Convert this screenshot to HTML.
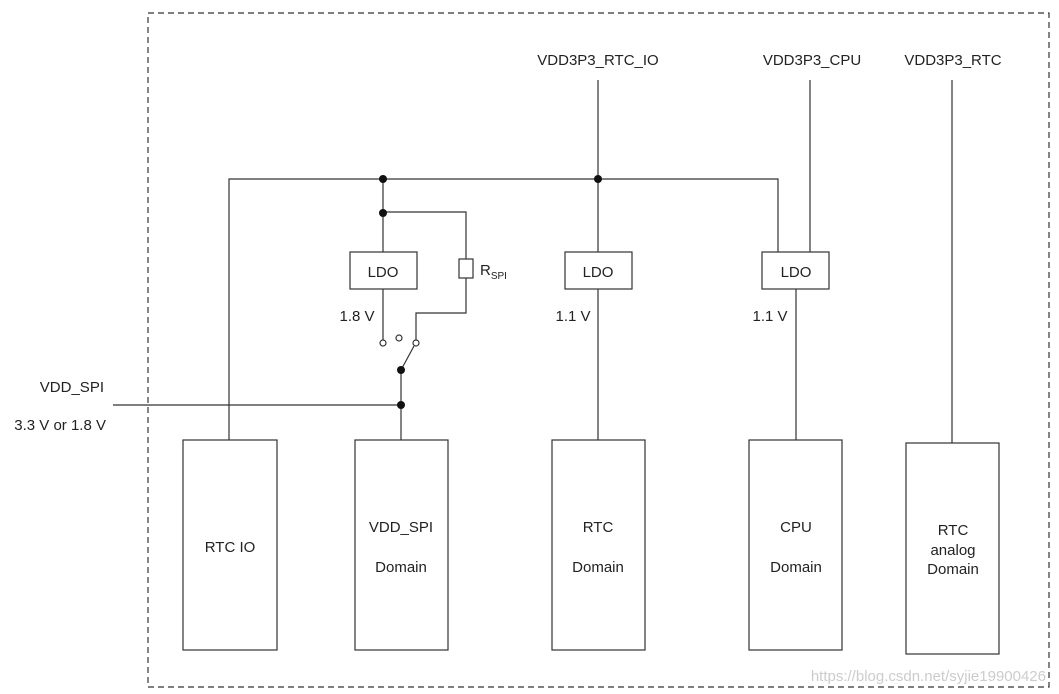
<!DOCTYPE html>
<html><head><meta charset="utf-8"><style>
html,body{margin:0;padding:0;background:#fff;width:1059px;height:694px;overflow:hidden}
text{font-family:"Liberation Sans",sans-serif;font-size:15px;fill:#222}
</style></head><body>
<svg width="1059" height="694" xmlns="http://www.w3.org/2000/svg">
<g fill="none" stroke="#333" stroke-width="1.2">
<rect x="148" y="13" width="901" height="674" stroke-dasharray="6,4"/>
<polyline points="229,440 229,179 778,179 778,252"/>
<line x1="383" y1="179" x2="383" y2="252"/>
<polyline points="383,212 466,212 466,259"/>
<polyline points="466,278 466,313 416,313 416,340"/>
<line x1="383" y1="289" x2="383" y2="340"/>
<line x1="401" y1="370" x2="414" y2="346"/>
<line x1="401" y1="370" x2="401" y2="440"/>
<line x1="113" y1="405" x2="401" y2="405"/>
<line x1="598" y1="80" x2="598" y2="252"/>
<line x1="598" y1="289" x2="598" y2="440"/>
<line x1="810" y1="80" x2="810" y2="252"/>
<line x1="796" y1="289" x2="796" y2="440"/>
<line x1="952" y1="80" x2="952" y2="443"/>
<rect x="350" y="252" width="67" height="37"/>
<rect x="565" y="252" width="67" height="37"/>
<rect x="762" y="252" width="67" height="37"/>
<rect x="459" y="259" width="14" height="19"/>
<rect x="183" y="440" width="94" height="210"/>
<rect x="355" y="440" width="93" height="210"/>
<rect x="552" y="440" width="93" height="210"/>
<rect x="749" y="440" width="93" height="210"/>
<rect x="906" y="443" width="93" height="211"/>
<circle cx="383" cy="343" r="3" fill="#fff"/>
<circle cx="399" cy="338" r="3" fill="#fff"/>
<circle cx="416" cy="343" r="3" fill="#fff"/>
</g>
<g fill="#111">
<circle cx="383" cy="179" r="4"/><circle cx="598" cy="179" r="4"/>
<circle cx="383" cy="213" r="4"/><circle cx="401" cy="370" r="4"/><circle cx="401" cy="405" r="4"/>
</g>
<text x="598" y="65" text-anchor="middle">VDD3P3_RTC_IO</text>
<text x="812" y="65" text-anchor="middle">VDD3P3_CPU</text>
<text x="953" y="65" text-anchor="middle">VDD3P3_RTC</text>
<text x="383" y="277" text-anchor="middle">LDO</text>
<text x="598" y="277" text-anchor="middle">LDO</text>
<text x="796" y="277" text-anchor="middle">LDO</text>
<text x="480" y="275">R<tspan font-size="10" dy="4">SPI</tspan></text>
<text x="357" y="321" text-anchor="middle">1.8 V</text>
<text x="573" y="321" text-anchor="middle">1.1 V</text>
<text x="770" y="321" text-anchor="middle">1.1 V</text>
<text x="104" y="392" text-anchor="end">VDD_SPI</text>
<text x="106" y="430" text-anchor="end">3.3 V or 1.8 V</text>
<text x="230" y="552" text-anchor="middle">RTC IO</text>
<text x="401" y="532" text-anchor="middle">VDD_SPI</text>
<text x="401" y="572" text-anchor="middle">Domain</text>
<text x="598" y="532" text-anchor="middle">RTC</text>
<text x="598" y="572" text-anchor="middle">Domain</text>
<text x="796" y="532" text-anchor="middle">CPU</text>
<text x="796" y="572" text-anchor="middle">Domain</text>
<text x="953" y="535" text-anchor="middle">RTC</text>
<text x="953" y="555" text-anchor="middle">analog</text>
<text x="953" y="574" text-anchor="middle">Domain</text>
<text x="1046" y="681" text-anchor="end" style="fill:#ccc;font-size:15px">https://blog.csdn.net/syjie19900426</text>
</svg>
</body></html>
